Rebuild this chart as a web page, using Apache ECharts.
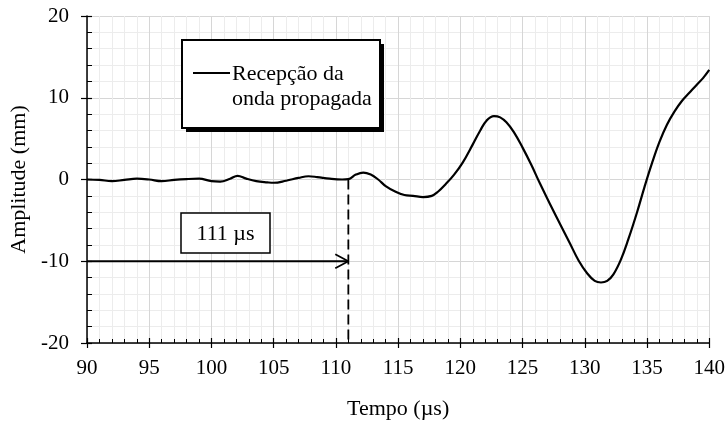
<!DOCTYPE html>
<html>
<head>
<meta charset="utf-8">
<script src="https://cdn.jsdelivr.net/npm/echarts@6/dist/echarts.min.js"></script>
<style>
html,body{margin:0;padding:0;background:#fff;}
#chart{width:728px;height:425px;}
</style>
</head>
<body>
<div id="chart"></div>
<script>
// ---- data ----
var time = [90,91,92,93,94,95,96,97,98,99,100,100.7,101.5,102.1,102.8,103.6,104.5,105,106,107,107.8,108.5,109.5,110.5,111,111.6,112.2,112.8,113.4,114,114.8,115.5,116.2,117,117.7,118.2,118.8,119.5,120.2,121,121.6,122.1,122.7,123.2,123.7,124.3,125,125.7,126.4,127.2,128,128.8,129.5,130.2,130.8,131.3,131.8,132.3,132.9,133.5,134.2,134.8,135.4,136,136.6,137.2,137.8,138.4,139,139.5,140];
var amplitude = [0,-0.05,-0.2,-0.05,0.1,0,-0.2,-0.05,0.05,0.1,-0.2,-0.25,0.1,0.45,0.1,-0.2,-0.35,-0.4,-0.15,0.2,0.4,0.3,0.1,0,0.05,0.6,0.85,0.6,0,-0.8,-1.5,-1.9,-2.0,-2.15,-2.0,-1.5,-0.6,0.6,2.1,4.3,6.0,7.2,7.75,7.6,7.0,5.8,3.9,1.8,-0.5,-3.0,-5.4,-7.8,-9.9,-11.5,-12.4,-12.6,-12.4,-11.6,-9.8,-7.3,-4.0,-0.9,2.0,4.6,6.7,8.3,9.6,10.6,11.6,12.4,13.4];
var xTicks = [90,95,100,105,110,115,120,125,130,135,140];
var yTicks = [-20,-10,0,10,20];
var arrivalTime = 111;      // µs
var arrowLevel = -10;       // mm
var seriesName = 'Recepção da\nonda propagada';
var arrivalLabel = '111 µs';

// ---- build ----
var curve = time.map(function(t,i){return [t, amplitude[i]];});
var arrowLine = [[xTicks[0], arrowLevel],[arrivalTime, arrowLevel]];
var arrowHead = [[arrivalTime-1.05, arrowLevel+0.85],[arrivalTime, arrowLevel],[arrivalTime-1.05, arrowLevel-0.85]];
var dashLine = [[arrivalTime, 0],[arrivalTime, yTicks[0]]];

var font = '"Liberation Serif", "Times New Roman", serif';
var chart = echarts.init(document.getElementById('chart'));

var xMin = xTicks[0], xMax = xTicks[xTicks.length-1];
var yMin = yTicks[0], yMax = yTicks[yTicks.length-1];

chart.setOption({
  animation:false,
  backgroundColor:'#fff',
  grid:{left:87,right:16,top:16,bottom:82,containLabel:false},
  xAxis:[{
    type:'value',min:xMin,max:xMax,interval:5,
    name:'Tempo (µs)',nameLocation:'middle',nameGap:55,
    nameTextStyle:{fontFamily:font,fontSize:22,color:'#000'},
    axisLine:{show:true,onZero:false,lineStyle:{color:'#000',width:1.5}},
    axisTick:{show:true,inside:true,length:5,lineStyle:{color:'#000',width:1.2}},
    minorTick:{show:true,splitNumber:5,length:4,lineStyle:{color:'#000',width:1}},
    axisLabel:{fontFamily:font,fontSize:21,color:'#000',margin:15},
    splitLine:{show:true,lineStyle:{color:'#d6d6d6',width:1}},
    minorSplitLine:{show:true,lineStyle:{color:'#ececec',width:1}}
  },{
    type:'value',min:xMin,max:xMax,interval:5,position:'bottom',
    axisLine:{show:false,onZero:false},
    axisTick:{show:true,inside:false,length:5,lineStyle:{color:'#000',width:1.2}},
    axisLabel:{show:false},splitLine:{show:false}
  }],
  yAxis:[{
    type:'value',min:yMin,max:yMax,interval:10,
    name:'Amplitude (mm)',nameLocation:'middle',nameGap:52,
    nameTextStyle:{fontFamily:font,fontSize:22,color:'#000'},
    axisLine:{show:true,onZero:false,lineStyle:{color:'#000',width:1.5}},
    axisTick:{show:true,inside:true,length:5,lineStyle:{color:'#000',width:1.2}},
    minorTick:{show:true,splitNumber:5,length:5,lineStyle:{color:'#000',width:1}},
    axisLabel:{fontFamily:font,fontSize:21,color:'#000',margin:18},
    splitLine:{show:true,lineStyle:{color:'#d6d6d6',width:1}},
    minorSplitLine:{show:true,lineStyle:{color:'#ececec',width:1}}
  },{
    type:'value',min:yMin,max:yMax,interval:10,position:'left',
    axisLine:{show:false,onZero:false},
    axisTick:{show:true,inside:false,length:6,lineStyle:{color:'#000',width:1.2}},
    axisLabel:{show:false},splitLine:{show:false}
  }],
  series:[{
    name:seriesName,type:'line',data:curve,smooth:0.4,showSymbol:false,
    lineStyle:{color:'#000',width:2.2},z:5
  },{
    type:'line',data:arrowLine,showSymbol:false,lineStyle:{color:'#000',width:1.8},z:4
  },{
    type:'line',data:arrowHead,showSymbol:false,lineStyle:{color:'#000',width:1.8},z:4
  },{
    type:'line',data:dashLine,showSymbol:false,lineStyle:{color:'#000',width:1.8,type:[10,5]},z:4
  }],
  graphic:[
    {type:'rect',shape:{x:186,y:44,width:198,height:88},style:{fill:'#000'},z:9},
    {type:'rect',shape:{x:182,y:40,width:198,height:88},
     style:{fill:'#fff',stroke:'#000',lineWidth:2},z:10},
    {type:'line',shape:{x1:193,y1:73,x2:230,y2:73},style:{stroke:'#000',lineWidth:2},z:11},
    {type:'text',x:232,y:74,style:{text:seriesName.split('\n')[0],font:'22px '+font,fill:'#000',verticalAlign:'middle',align:'left'},z:11},
    {type:'text',x:232,y:99,style:{text:seriesName.split('\n')[1],font:'22px '+font,fill:'#000',verticalAlign:'middle',align:'left'},z:11},
    {type:'rect',shape:{x:181,y:213,width:89,height:40},
     style:{fill:'#fff',stroke:'#000',lineWidth:1.5},z:10},
    {type:'text',x:225.5,y:234,style:{text:arrivalLabel,font:'22px '+font,fill:'#000',verticalAlign:'middle',align:'center'},z:11}
  ]
});
</script>
</body>
</html>
